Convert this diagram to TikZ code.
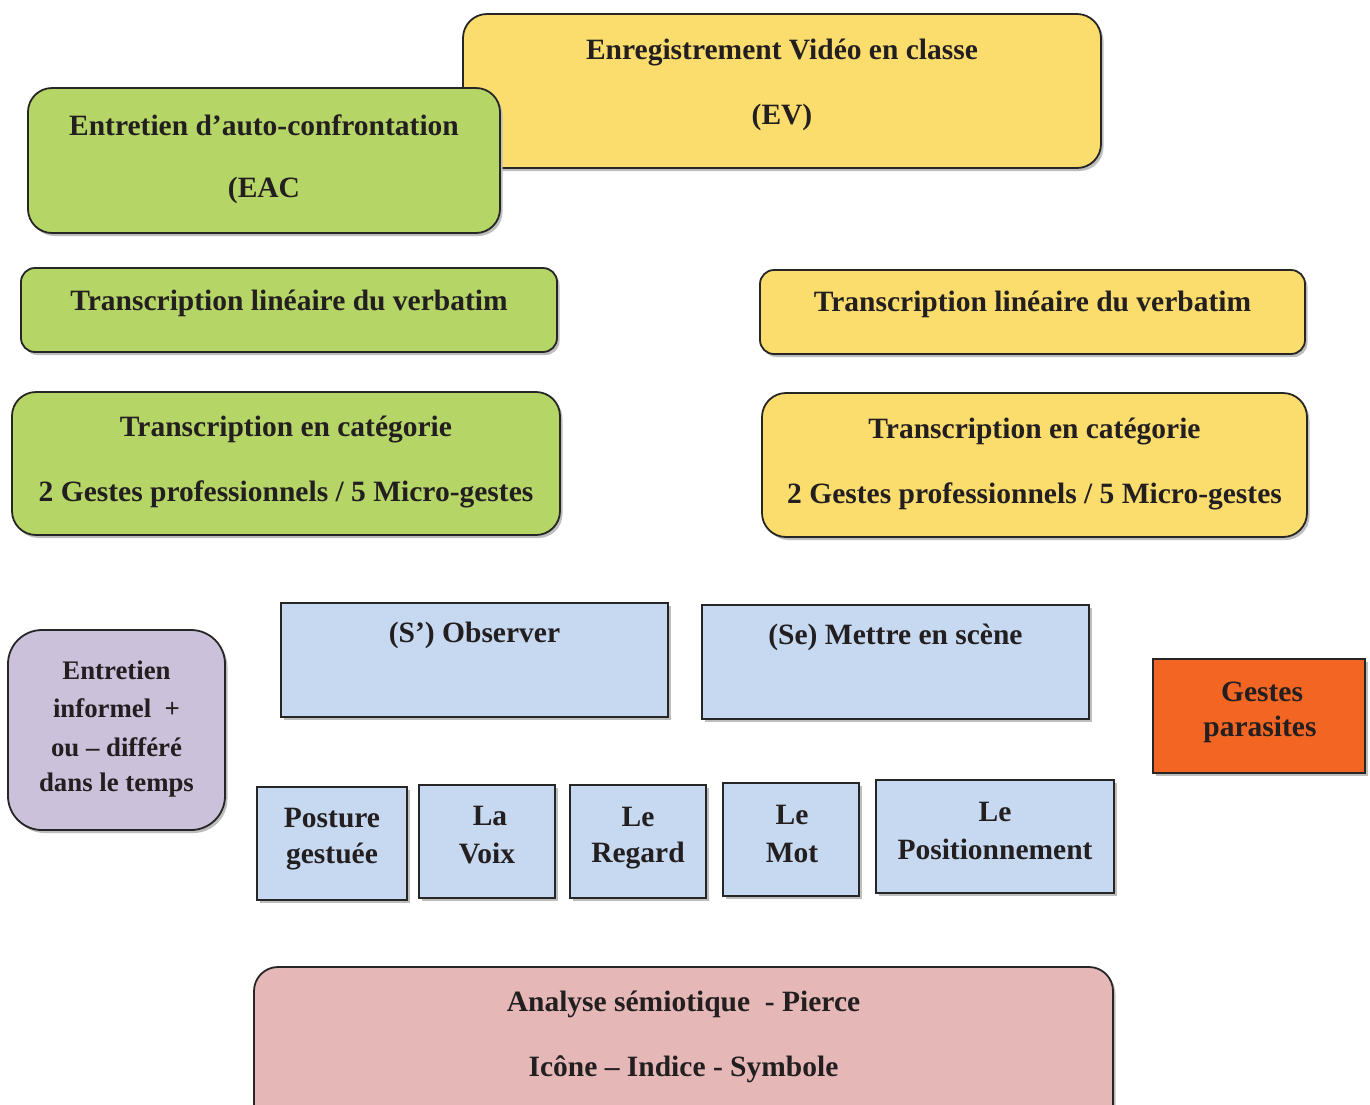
\documentclass[tikz,border=0pt]{standalone}
\usepackage{fontspec}
\setmainfont{Liberation Serif}
\usetikzlibrary{shadows}
\definecolor{edge}{HTML}{262626}
\definecolor{txt}{HTML}{231F20}
\definecolor{shd}{HTML}{BDBDBD}
\definecolor{grn}{HTML}{B5D566}
\definecolor{yel}{HTML}{FADD6D}
\definecolor{blu}{HTML}{C6D9F0}
\definecolor{pur}{HTML}{CCC1DA}
\definecolor{org}{HTML}{F26522}
\definecolor{pnk}{HTML}{E5B8B7}
\begin{document}
\begin{tikzpicture}[x=1pt,y=-1pt,
  box/.style={draw=edge, line width=1.8pt, inner sep=0pt, outer sep=0pt,
    drop shadow={shadow xshift=2.5pt, shadow yshift=-3pt, fill=shd, opacity=1}},
  rbox/.style={box, rounded corners=24pt},
  lbl/.style={font=\fontsize{29.5}{34}\selectfont\bfseries, text=txt, inner sep=0pt, align=center, yshift=-2.5pt},
  slbl/.style={lbl, font=\fontsize{26.8}{31}\selectfont\bfseries}]
\clip (0,0) rectangle (1370,1104);
\useasboundingbox (0,0) rectangle (1370,1104);
\fill[white] (0,0) rectangle (1370,1104);

% top boxes
\node[rbox, fill=yel, minimum width=638pt, minimum height=154pt] (ev) at (782,91) {};
\node[lbl] (evt1) at (782,50) {Enregistrement Vidéo en classe};
\node[lbl] (evt2) at (782,115) {(EV)};

\node[rbox, fill=grn, minimum width=472pt, minimum height=145pt] (eac) at (264,160.5) {};
\node[lbl] (eact1) at (264,123) {Entretien d’auto-confrontation};
\node[lbl] (eact2) at (264,188) {(EAC};

% transcription lineaire
\node[rbox, rounded corners=14pt, fill=grn, minimum width=536pt, minimum height=84pt] (tlg) at (289,310) {};
\node[lbl] (tlgt) at (289,301) {Transcription linéaire du verbatim};
\node[rbox, rounded corners=14pt, fill=yel, minimum width=545pt, minimum height=84pt] (tly) at (1032.5,312) {};
\node[lbl] (tlyt) at (1032.5,302) {Transcription linéaire du verbatim};

% transcription categorie
\node[rbox, fill=grn, minimum width=548pt, minimum height=143pt] (tcg) at (286,463.5) {};
\node[lbl] (tcgt1) at (286,427) {Transcription en catégorie};
\node[lbl] (tcgt2) at (286,492) {2 Gestes professionnels / 5 Micro-gestes};
\node[rbox, fill=yel, minimum width=545pt, minimum height=144pt] (tcy) at (1034.5,465) {};
\node[lbl] (tcyt1) at (1034.5,429) {Transcription en catégorie};
\node[lbl] (tcyt2) at (1034.5,494) {2 Gestes professionnels / 5 Micro-gestes};

% entretien informel
\node[rbox, rounded corners=34pt, fill=pur, minimum width=217pt, minimum height=200pt] (inf) at (116.5,730) {};
\node[slbl] (inft1) at (116.5,668) {Entretien};
\node[slbl] (inft2) at (116.5,706) {informel\ \ +};
\node[slbl] (inft3) at (116.5,745) {ou – différé};
\node[slbl] (inft4) at (116.5,783) {dans le temps};

% observer / mettre en scene
\node[box, fill=blu, minimum width=387pt, minimum height=114pt] (obs) at (474.5,660) {};
\node[lbl] (obst) at (474.5,633) {(S’) Observer};
\node[box, fill=blu, minimum width=387pt, minimum height=114pt] (mes) at (895.5,662) {};
\node[lbl] (mest) at (895.5,635) {(Se) Mettre en scène};

% gestes parasites
\node[box, fill=org, minimum width=212pt, minimum height=114pt] (gp) at (1259,716) {};
\node[lbl] (gpt1) at (1262,689) {Gestes};
\node[lbl] (gpt2) at (1260,727) {parasites};

% micro-gestes
\node[box, fill=blu, minimum width=150pt, minimum height=113pt] (post) at (332,843.5) {};
\node[lbl] (postt1) at (332,816) {Posture};
\node[lbl] (postt2) at (332,854) {gestuée};
\node[box, fill=blu, minimum width=136pt, minimum height=113pt] (voix) at (487,841.5) {};
\node[lbl] (voixt1) at (490,813) {La};
\node[lbl] (voixt2) at (487,851) {Voix};
\node[box, fill=blu, minimum width=136pt, minimum height=113pt] (reg) at (638,841.5) {};
\node[lbl] (regt1) at (638,814) {Le};
\node[lbl] (regt2) at (638,853) {Regard};
\node[box, fill=blu, minimum width=136pt, minimum height=113pt] (mot) at (791,839.5) {};
\node[lbl] (mott1) at (792,812) {Le};
\node[lbl] (mott2) at (792,850) {Mot};
\node[box, fill=blu, minimum width=238pt, minimum height=113pt] (posi) at (995,836.5) {};
\node[lbl] (posit1) at (995,809) {Le};
\node[lbl] (posit2) at (995,847) {Positionnement};

% analyse semiotique
\node[rbox, fill=pnk, minimum width=859pt, minimum height=163pt] (ana) at (683.5,1048.5) {};
\node[lbl] (anat1) at (683.5,1002) {Analyse sémiotique\ \ - Pierce};
\node[lbl] (anat2) at (683.5,1067) {Icône – Indice - Symbole};
\end{tikzpicture}
\end{document}
